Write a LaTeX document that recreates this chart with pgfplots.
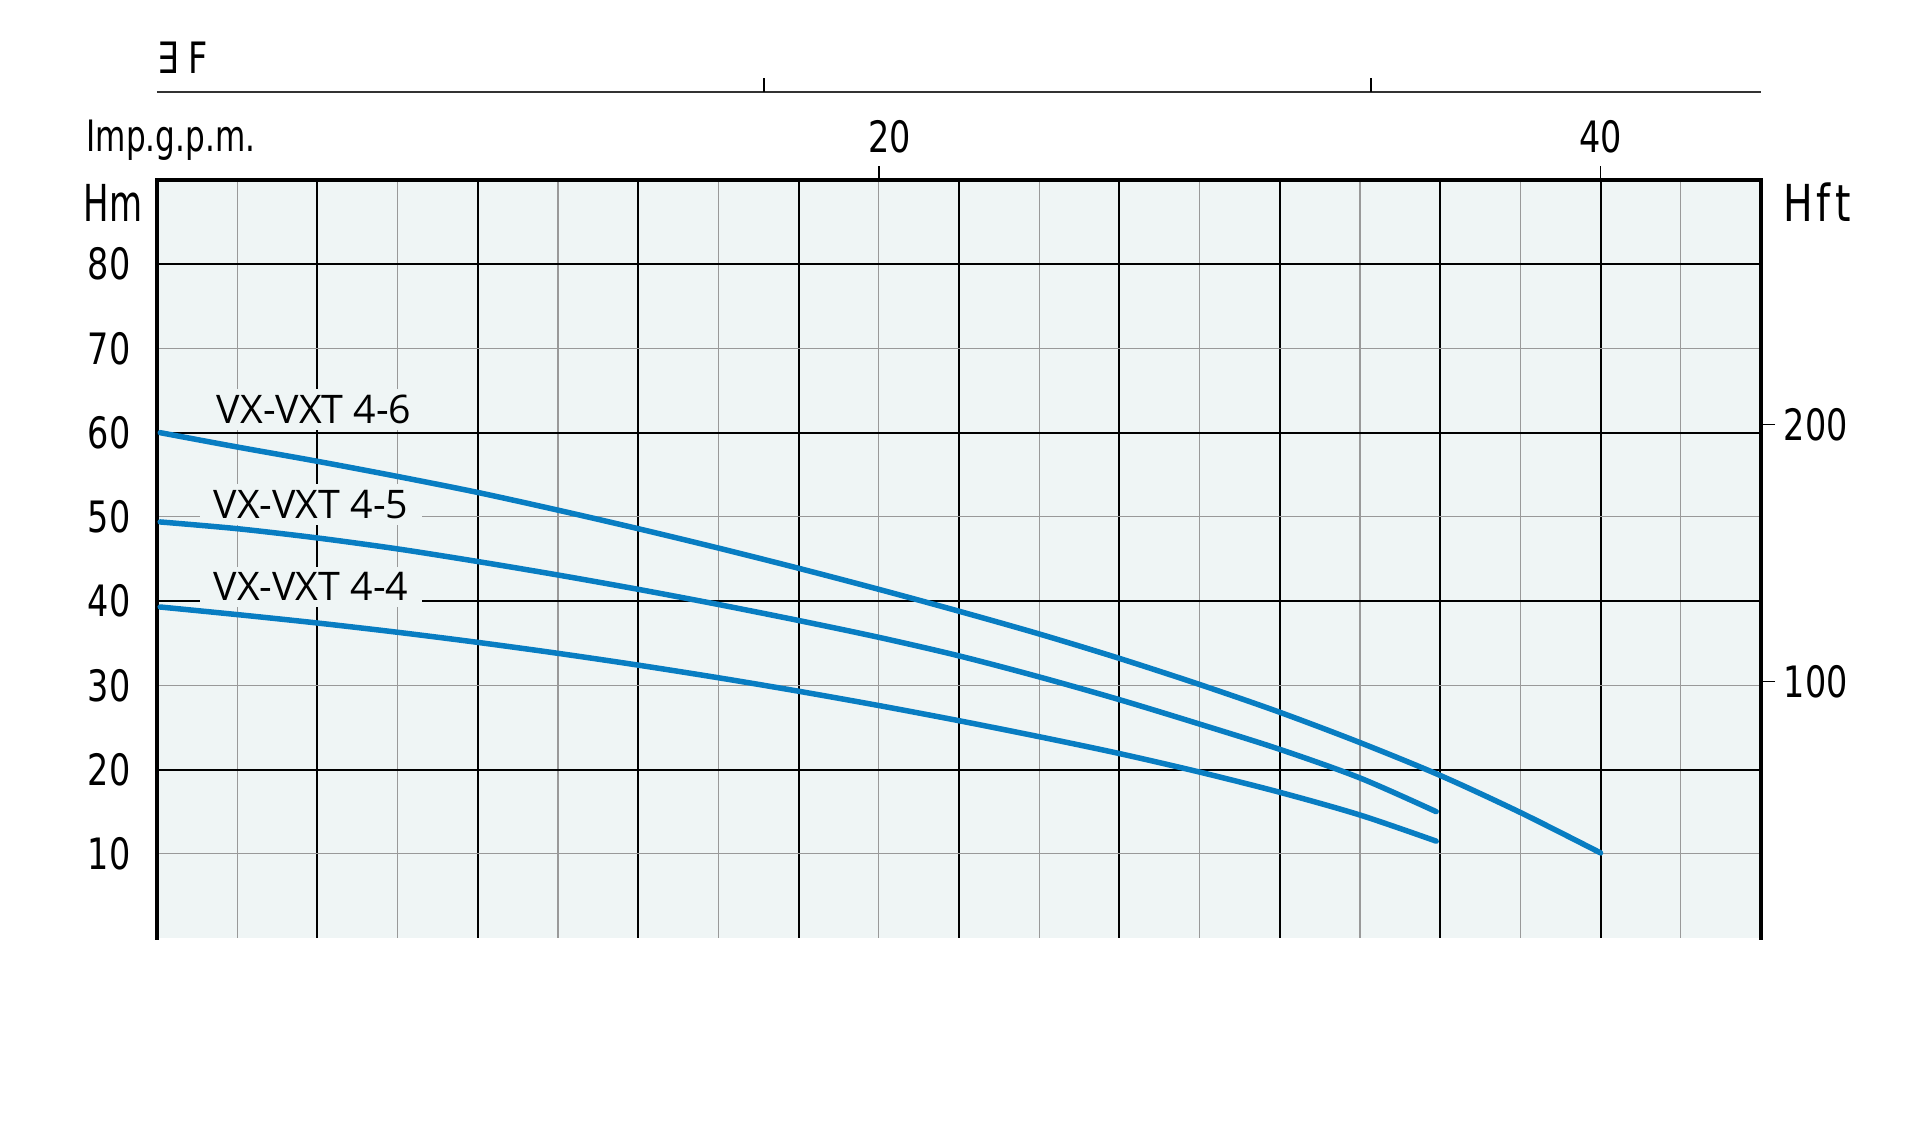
\documentclass[border=0pt]{standalone}
\usepackage{fontspec}
\usepackage{pgfplots}
\pgfplotsset{compat=1.18}
\setmainfont{Open Sans}
\newfontfamily\din[FakeStretch=0.86]{DejaVu Sans Condensed}
\newfontfamily\dinn[FakeStretch=0.74]{DejaVu Sans Condensed}
\newfontfamily\dinm[FakeStretch=0.8]{DejaVu Sans Condensed}
\definecolor{bgc}{RGB}{239,245,245}
\definecolor{curve}{RGB}{8,125,194}
\pgfplotsset{/pgf/number format/assume math mode=true}
\begin{document}
\begin{tikzpicture}
\path (-15.7mm,-20mm) rectangle (176.3mm,93.8mm);
% grid & background
\begin{axis}[at={(0,0)},anchor=south west,scale only axis,width=160.4mm,height=75.8mm,
  xmin=0,xmax=200,ymin=0,ymax=90,
  axis background/.style={fill=bgc},
  axis line style={draw=none},
  xtick={0,20,...,200},minor xtick={10,30,...,190},
  ytick={20,40,60,80},minor ytick={10,30,50,70},
  xticklabels={},yticklabels={},
  major tick length=0pt,minor tick length=0pt,
  grid=both,
  major grid style={black,line width=0.2mm},
  minor grid style={black!40,line width=0.12mm},
  clip=false]
\draw[line width=0.42mm,line cap=rect] (rel axis cs:0,0) -- (rel axis cs:0,1) -- (rel axis cs:1,1) -- (rel axis cs:1,0);
\end{axis}
% curves, left & top labels
\begin{axis}[at={(0,0)},anchor=south west,scale only axis,width=160.4mm,height=75.8mm,
  xmin=0,xmax=200,ymin=0,ymax=90,
  axis line style={draw=none},
  tick align=outside,
  xtick={90,180},xticklabels={{\hphantom{0}20},{40}},
  xtick pos=right,xticklabel pos=right,
  ytick={10,20,...,80},ytick pos=left,
  ytick style={draw=none},
  xtick style={black,line width=0.15mm},
  major tick length=1.4mm,
  xticklabel style={font=\din\fontsize{12.3}{14}\selectfont,anchor=south,inner sep=0pt},
  yticklabel style={font=\din\fontsize{12.3}{14}\selectfont,anchor=east,inner sep=0pt},
  xticklabel shift=1.2mm,
  yticklabel shift=1.2mm,
  clip=false]
\draw[line width=0.25mm,black!80] (rel axis cs:0,1.1161) -- (rel axis cs:1,1.1161);
\draw[line width=0.15mm] ({axis cs:75.7,0} |- {rel axis cs:0,1.1161}) -- ++(0,1.4mm);
\draw[line width=0.15mm] ({axis cs:151.4,0} |- {rel axis cs:0,1.1161}) -- ++(0,1.4mm);
\node[font=\din\fontsize{12.3}{14}\selectfont,anchor=base west,inner sep=0pt] at ([yshift=10.7mm]rel axis cs:0,1) {∃\kern0.22em F};
\node[font=\dinm\fontsize{12.3}{14}\selectfont,anchor=base west,inner sep=0pt] at ([xshift=-7.1mm,yshift=2.9mm]rel axis cs:0,1) {Imp.g.p.m.};
\node[font=\dinn\fontsize{14.5}{16}\selectfont,anchor=base east,inner sep=0pt] at ([xshift=-1.4mm,yshift=-4.1mm]rel axis cs:0,1) {Hm};
\node[font=\din\fontsize{14.5}{16}\selectfont,anchor=base west,inner sep=0pt] at ([xshift=2.2mm,yshift=-4.1mm]rel axis cs:1,1) {H\kern0.06em f\kern0.1em t};
\node[fill=bgc,inner xsep=1.4mm,inner ysep=0.6mm,font=\fontsize{11.2}{13}\selectfont] at (axis cs:19.6,62.8) {VX-VXT 4-6};
\node[fill=bgc,inner xsep=1.4mm,inner ysep=0.6mm,font=\fontsize{11.2}{13}\selectfont] at (axis cs:19.2,51.5) {VX-VXT 4-5};
\node[fill=bgc,inner xsep=1.4mm,inner ysep=0.6mm,font=\fontsize{11.2}{13}\selectfont] at (axis cs:19.2,41.7) {VX-VXT 4-4};
\addplot[curve,line width=0.55mm,line cap=round,smooth] coordinates {
(0.4,60) (10,58.3) (20,56.6) (30,54.8) (40,52.9) (50,50.8) (60,48.6) (70,46.3) (80,43.9) (90,41.4) (100,38.8) (110,36.1) (120,33.2) (130,30.1) (140,26.8) (150,23.2) (160,19.3) (170,14.9) (180,10.1)};
\addplot[curve,line width=0.55mm,line cap=round,smooth] coordinates {
(0.4,49.4) (10,48.6) (20,47.5) (30,46.2) (40,44.7) (50,43.1) (60,41.4) (70,39.6) (80,37.7) (90,35.7) (100,33.5) (110,31.0) (120,28.3) (130,25.4) (140,22.4) (150,19.0) (159.5,15.0)};
\addplot[curve,line width=0.55mm,line cap=round,smooth] coordinates {
(0.4,39.3) (10,38.4) (20,37.4) (30,36.3) (40,35.1) (50,33.8) (60,32.4) (70,30.9) (80,29.3) (90,27.6) (100,25.8) (110,23.9) (120,21.9) (130,19.7) (140,17.3) (150,14.6) (159.5,11.5)};
\end{axis}
% right Hft axis
\begin{axis}[at={(0,0)},anchor=south west,scale only axis,width=160.4mm,height=75.8mm,
  xmin=0,xmax=200,ymin=0,ymax=295.276,
  axis y line*=right,axis x line=none,
  axis line style={draw=none},
  tick align=outside,
  ytick={100,200},
  major tick length=1.4mm,
  ytick style={black,line width=0.15mm},
  yticklabel style={font=\din\fontsize{12.3}{14}\selectfont,anchor=west,inner sep=0pt},
  yticklabel shift=0.8mm]
\end{axis}
\end{tikzpicture}
\end{document}
